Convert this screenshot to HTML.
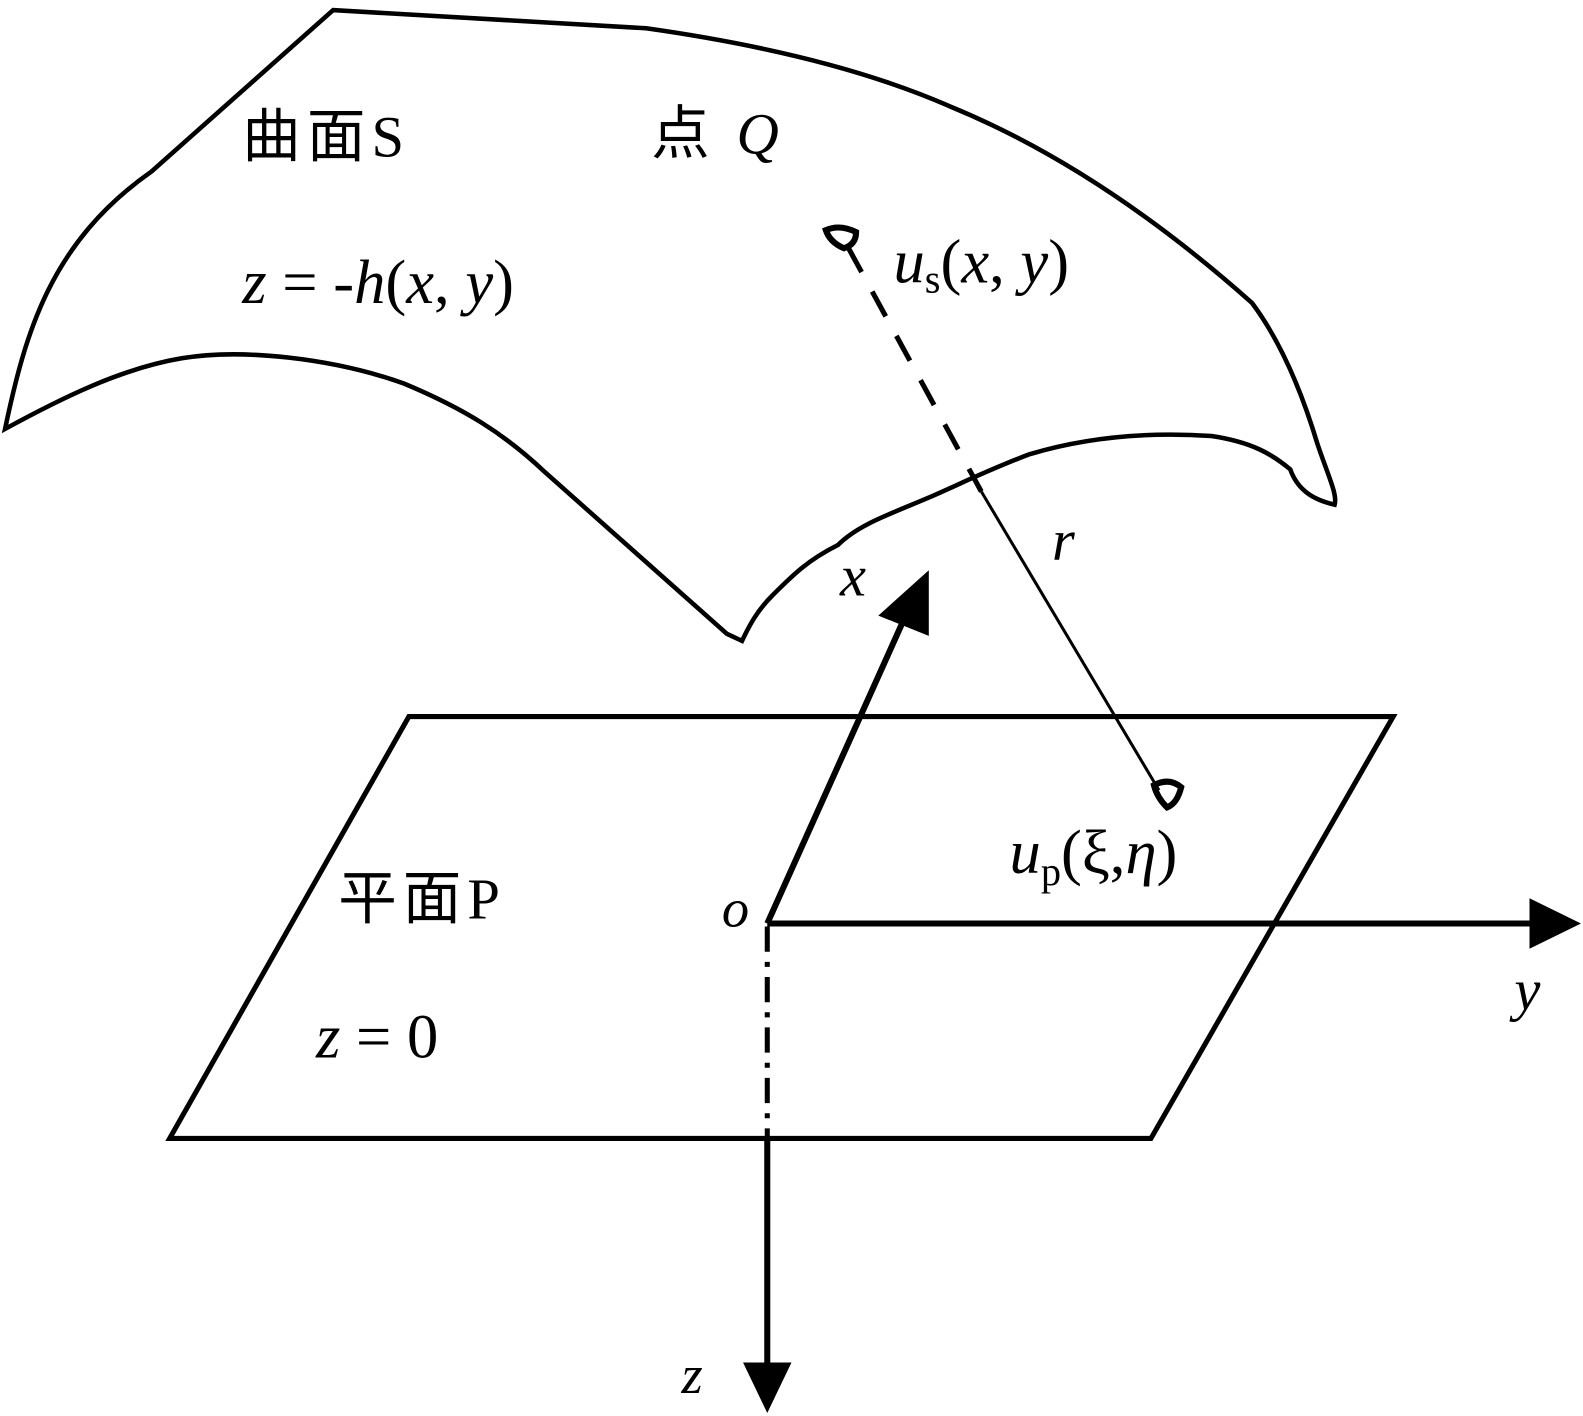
<!DOCTYPE html>
<html><head><meta charset="utf-8"><style>
html,body{margin:0;padding:0;background:#fff;}
svg{display:block;}
text{font-family:"Liberation Serif","Noto Serif CJK SC",serif;fill:#000;}
.cj{font-family:"Liberation Serif","Noto Sans CJK SC",serif;letter-spacing:6px;}
</style></head><body>
<svg width="1583" height="1416" viewBox="0 0 1568 1403" preserveAspectRatio="none" xmlns="http://www.w3.org/2000/svg">
<path d="M5,425 C25,330 50,240 150,170 L330,10 L640,28 C760,45 860,70 940,105 C1050,150 1150,220 1240,300 C1270,340 1290,390 1305,440 C1315,470 1325,490 1322,500 C1300,495 1285,485 1278,465 C1260,450 1240,438 1200,432 C1140,428 1080,432 1020,450 C980,465 950,480 920,493 C880,510 850,520 830,540 C800,555 785,570 765,590 C750,605 742,620 735,635 L720,628 L540,468 C500,430 460,405 400,380 C330,355 240,345 180,355 C120,365 60,395 5,425 Z" fill="none" stroke="#000" stroke-width="4.5"/>
<line x1="840" y1="245" x2="972" y2="487" stroke="#000" stroke-width="5" stroke-dasharray="28,22"/>
<line x1="972" y1="487" x2="1148" y2="783" stroke="#000" stroke-width="3"/>
<path d="M818,228 Q832,222 848,230 Q848,242 836,246 Q822,240 818,228 Z" fill="none" stroke="#000" stroke-width="6"/>
<path d="M1143,778 Q1158,770 1170,780 Q1166,796 1156,800 Q1146,790 1143,778 Z" fill="none" stroke="#000" stroke-width="6"/>
<polygon points="405,710 1380,710 1140,1128 168,1128" fill="none" stroke="#000" stroke-width="5"/>
<line x1="760" y1="915" x2="897" y2="610" stroke="#000" stroke-width="6"/>
<polygon points="920,565 920,630 870,610" fill="#000"/>
<line x1="760" y1="915" x2="1520" y2="915" stroke="#000" stroke-width="6"/>
<polygon points="1566,915 1515,890 1515,940" fill="#000"/>
<line x1="760" y1="918" x2="760" y2="1128" stroke="#000" stroke-width="5" stroke-dasharray="25,10,5,10"/>
<line x1="760" y1="1128" x2="760" y2="1355" stroke="#000" stroke-width="6"/>
<polygon points="760,1400 736,1350 784,1350" fill="#000"/>
<text x="240" y="155" font-size="58" class="cj">曲面S</text>
<text x="645" y="152" font-size="58" class="cj">点 <tspan font-style="italic">Q</tspan></text>
<text x="240" y="300" font-size="62"><tspan font-style="italic">z</tspan> = -<tspan font-style="italic">h</tspan>(<tspan font-style="italic">x</tspan>, <tspan font-style="italic">y</tspan>)</text>
<text x="885" y="280" font-size="62"><tspan font-style="italic">u</tspan><tspan font-size="40" dy="10">s</tspan><tspan dy="-10">(</tspan><tspan font-style="italic">x</tspan>, <tspan font-style="italic">y</tspan>)</text>
<text x="1042" y="555" font-size="58" font-style="italic">r</text>
<text x="832" y="590" font-size="58" font-style="italic">x</text>
<text x="1000" y="865" font-size="62"><tspan font-style="italic">u</tspan><tspan font-size="40" dy="12">p</tspan><tspan dy="-12">(ξ,</tspan><tspan font-style="italic">η</tspan>)</text>
<text x="335" y="910" font-size="58" class="cj">平面P</text>
<text x="715" y="918" font-size="54" font-style="italic">o</text>
<text x="1500" y="1000" font-size="58" font-style="italic">y</text>
<text x="313" y="1048" font-size="62"><tspan font-style="italic">z</tspan> = 0</text>
<text x="675" y="1380" font-size="54" font-style="italic">z</text>
</svg>
</body></html>
